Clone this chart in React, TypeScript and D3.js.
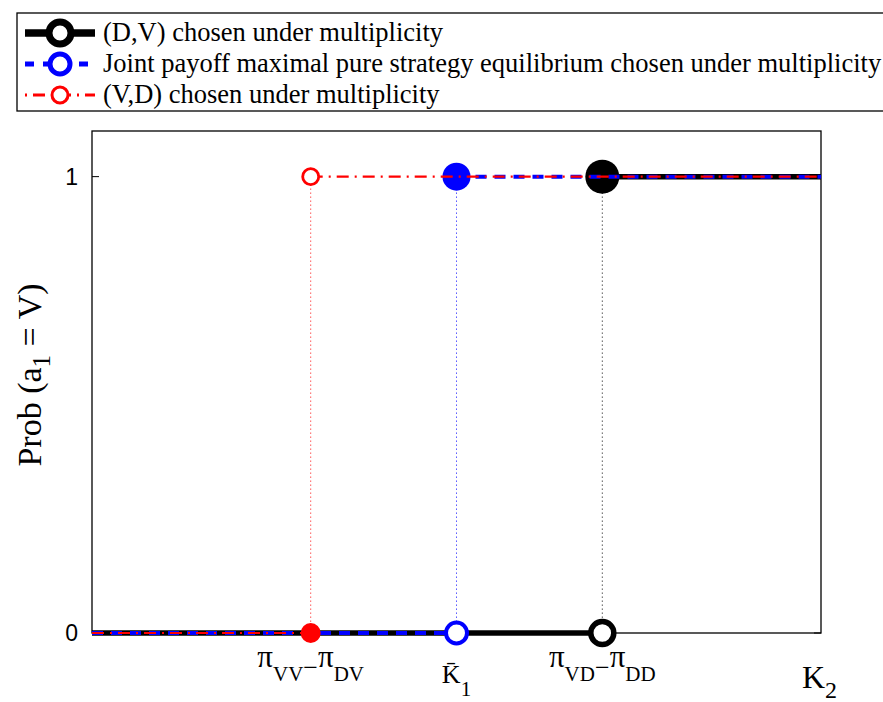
import React from "react";
import * as d3 from "d3";

const seriesNames = [
  "(D,V) chosen under multiplicity",
  "Joint payoff maximal pure strategy equilibrium chosen under multiplicity",
  "(V,D) chosen under multiplicity",
];
const seriesColors = ["#000000", "#0000ff", "#ff0000"];
const thresholds = [3.5, 2.5, 1.5];
const xDomain = [0, 5];
const yDomain = [0, 1.1];
const yTicks = [0, 1];
const piLabels = [["VD", "DD"], null, ["VV", "DV"]];

const W = 883, H = 702;
const L = 92, R = 821, T = 131, B = 633;

const styles = [
  { width: 5.5, dash: "none", openR: 11.5, openSW: 5.5, fillR: 17 },
  { width: 4, dash: "11 8", openR: 10.5, openSW: 4, fillR: 14 },
  { width: 2.2, dash: "12 6 2 6", openR: 8, openSW: 2.8, fillR: 10 },
];

const serif = "Liberation Serif, Times New Roman, serif";

export default function App() {
  const x = d3.scaleLinear().domain(xDomain).range([L, R]);
  const y = d3.scaleLinear().domain(yDomain).range([B, T]);
  const line = d3.line<[number, number]>().x((d) => x(d[0])).y((d) => y(d[1]));

  const piText = (t: number, subs: string[]) => (
    <text x={x(t)} y={667} textAnchor="middle" fontSize={26}>
      <tspan fontSize={31}>π</tspan>
      <tspan dy={14} fontSize={21}>{subs[0]}</tspan>
      <tspan dy={-5}>−</tspan>
      <tspan dy={-9} fontSize={31}>π</tspan>
      <tspan dy={14} fontSize={21}>{subs[1]}</tspan>
    </text>
  );

  return (
    <svg width={W} height={H} style={{ position: "absolute", left: 0, top: 0 }}>
      <defs>
        <clipPath id="plotclip">
          <rect x={L} y={T - 30} width={R - L} height={B - T + 60} />
        </clipPath>
      </defs>
      <rect x={0} y={0} width={W} height={H} fill="#fff" />
      <rect x={L} y={T} width={R - L} height={B - T} fill="#fff" stroke="#000" strokeWidth={1.3} />
      {yTicks.map((t) => (
        <g key={t}>
          <line x1={L} x2={L + 7} y1={y(t)} y2={y(t)} stroke="#000" strokeWidth={1} />
          <line x1={R} x2={R - 7} y1={y(t)} y2={y(t)} stroke="#000" strokeWidth={1} />
          <text x={L - 14} y={y(t) + 8} textAnchor="end" fontFamily="Liberation Sans, Arial, sans-serif" fontSize={23}>
            {t}
          </text>
        </g>
      ))}
      {thresholds.map((t, i) => (
        <line key={"v" + i} x1={x(t)} x2={x(t)} y1={y(1)} y2={y(0)} stroke={seriesColors[i]} strokeWidth={1} strokeDasharray="1 3" />
      ))}
      <g clipPath="url(#plotclip)">
        {thresholds.map((t, i) => {
          const s = styles[i];
          const c = seriesColors[i];
          return (
            <g key={"s" + i}>
              <path d={line([[xDomain[0], 0], [t, 0]])!} fill="none" stroke={c} strokeWidth={s.width} strokeDasharray={s.dash} />
              <path d={line([[t, 1], [xDomain[1], 1]])!} fill="none" stroke={c} strokeWidth={s.width} strokeDasharray={s.dash} />
              {i === 2 ? (
                <>
                  <circle cx={x(t)} cy={y(0)} r={s.fillR} fill={c} />
                  <circle cx={x(t)} cy={y(1)} r={s.openR} fill="#fff" stroke={c} strokeWidth={s.openSW} />
                </>
              ) : (
                <>
                  <circle cx={x(t)} cy={y(0)} r={s.openR} fill="#fff" stroke={c} strokeWidth={s.openSW} />
                  <circle cx={x(t)} cy={y(1)} r={s.fillR} fill={c} />
                </>
              )}
            </g>
          );
        })}
      </g>
      <g fontFamily={serif} fill="#000">
        {thresholds.map((t, i) => {
          const p = piLabels[i];
          if (p) return <g key={"xl" + i}>{piText(t, p)}</g>;
          return (
            <text key={"xl" + i} x={x(t)} y={683} textAnchor="middle" fontSize={26}>
              K̄<tspan fontSize={21} dy={13}>1</tspan>
            </text>
          );
        })}
        <text x={802} y={688} fontSize={32}>
          K<tspan fontSize={24} dy={10}>2</tspan>
        </text>
      </g>
      <text
        transform={`translate(41, 375) rotate(-90)`}
        textAnchor="middle"
        fontFamily={serif}
        fontSize={34}
      >
        Prob (a<tspan fontSize={25} dy={9}>1</tspan>
        <tspan dy={-9}> = V)</tspan>
      </text>
      <rect x={17} y={13} width={880} height={98} fill="#fff" stroke="#000" strokeWidth={1.3} />
      {seriesNames.map((n, i) => {
        const ly = 33 + i * 31;
        const s = styles[i];
        const c = seriesColors[i];
        return (
          <g key={"l" + i}>
            <line x1={25} x2={95} y1={ly} y2={ly} stroke={c} strokeWidth={s.width + (i === 0 ? 2 : 1)} strokeDasharray={i === 1 ? "9 9" : i === 2 ? "2 6 12 6" : "none"} />
            <circle cx={60} cy={ly} r={i === 0 ? 11 : i === 1 ? 10 : 8} fill="#fff" stroke={c} strokeWidth={i === 0 ? 7 : i === 1 ? 5 : 3} />
            <text x={103} y={ly + 8} fontFamily={serif} fontSize={26.5}>
              {n}
            </text>
          </g>
        );
      })}
    </svg>
  );
}
